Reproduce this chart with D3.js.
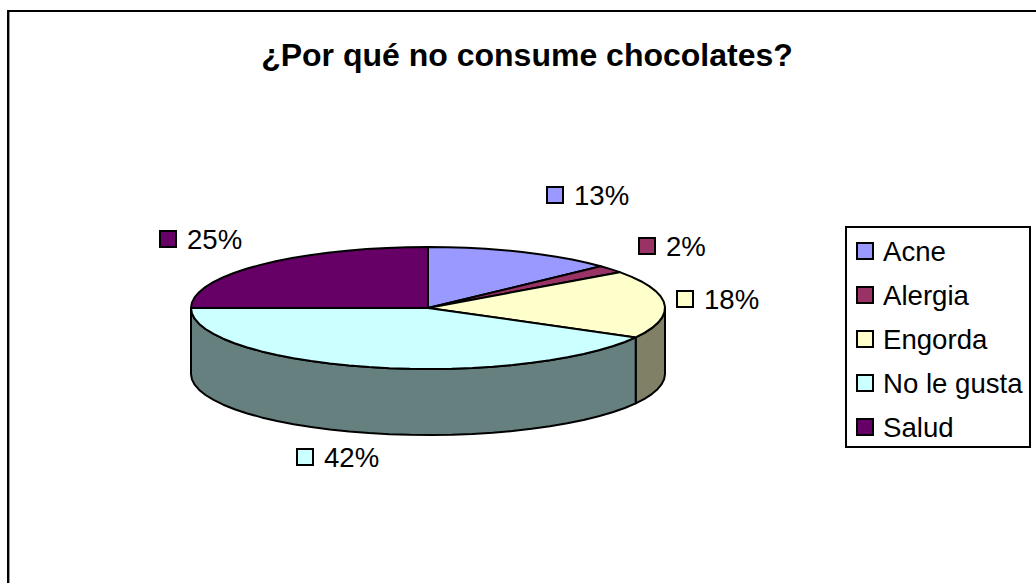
<!DOCTYPE html>
<html><head><meta charset="utf-8">
<script src="https://cdn.jsdelivr.net/npm/d3@7"></script>
<style>html,body{margin:0;padding:0;background:#fff}svg{display:block}text{font-family:"Liberation Sans",Arial,sans-serif;fill:#000}</style>
</head><body><div id="c"></div>
<script>
const categories=["Acne","Alergia","Engorda","No le gusta","Salud"];
const values=[13,2,18,42,25];
const topColors=["#9999ff","#993366","#ffffcc","#ccffff","#660066"];
const sideColors=["#4d4d80","#4d1a33","#808066","#668080","#330033"];
const chartTitle="¿Por qué no consume chocolates?";

const W=1036,H=583,cx=428,cy=308,rx=237,ry=61,depth=66;
const svg=d3.select("#c").append("svg").attr("width",W).attr("height",H);
// open frame: top and left edges only, the rest is cropped
svg.append("path").attr("d","M8,"+H+"V11H"+W).attr("fill","none").attr("stroke","#000").attr("stroke-width",2);
svg.append("line").attr("x1",9.5).attr("x2",9.5).attr("y1",12).attr("y2",H).attr("stroke","#999").attr("stroke-width",1);
svg.append("text").attr("x",527).attr("y",66).attr("text-anchor","middle").attr("font-size",32).attr("font-weight","bold").text(chartTitle);

const arcs=d3.pie().sort(null).value(d=>d)(values);
const px=d3.scaleLinear().domain([-1,1]).range([cx-rx,cx+rx]);
const py=d3.scaleLinear().domain([-1,1]).range([cy-ry,cy+ry]);
const line=d3.line();
const pt=(a,dz=0)=>[px(Math.sin(a)),py(-Math.cos(a))+dz];
function sample(a0,a1,dz=0){const n=Math.max(2,Math.ceil((a1-a0)/0.09));return d3.range(n+1).map(i=>pt(a0+(a1-a0)*i/n,dz));}

// side walls: only the front half of the rim is visible
const wallStart=Math.PI/2, wallEnd=3*Math.PI/2;
arcs.forEach((d,i)=>{
  const a0=Math.max(d.startAngle,wallStart),a1=Math.min(d.endAngle,wallEnd);
  if(a1<=a0)return;
  const p=sample(a0,a1).concat(sample(a0,a1,depth).reverse());
  svg.append("path").attr("d",line(p)+"Z").attr("fill",sideColors[i]).attr("stroke","#000").attr("stroke-width",2).attr("stroke-linejoin","round");
});
// top faces
arcs.forEach((d,i)=>{
  const p=[[cx,cy]].concat(sample(d.startAngle,d.endAngle));
  svg.append("path").attr("d",line(p)+"Z").attr("fill",topColors[i]).attr("stroke","#000").attr("stroke-width",2).attr("stroke-linejoin","round");
});

// data labels
const labelAnchors=[[547,187],[639,238],[677,291],[297,449],[160,231]];
const pctText=values.map(v=>v+"%");
values.forEach((v,i)=>{
  const [x,y]=labelAnchors[i];
  svg.append("rect").attr("x",x).attr("y",y).attr("width",16).attr("height",16).attr("fill",topColors[i]).attr("stroke","#000").attr("stroke-width",2);
  svg.append("text").attr("x",x+27).attr("y",y+18).attr("font-size",27.6).text(pctText[i]);
});

// legend
svg.append("rect").attr("x",846).attr("y",227).attr("width",184).attr("height",220).attr("fill","#fff").attr("stroke","#000").attr("stroke-width",2);
const ly=d3.scalePoint().domain(categories).range([251,427]);
categories.forEach((c,i)=>{
  const y=ly(c);
  svg.append("rect").attr("x",857).attr("y",y-8).attr("width",16).attr("height",16).attr("fill",topColors[i]).attr("stroke","#000").attr("stroke-width",2);
  svg.append("text").attr("x",883).attr("y",y+10).attr("font-size",27.6).text(c);
});
</script></body></html>
